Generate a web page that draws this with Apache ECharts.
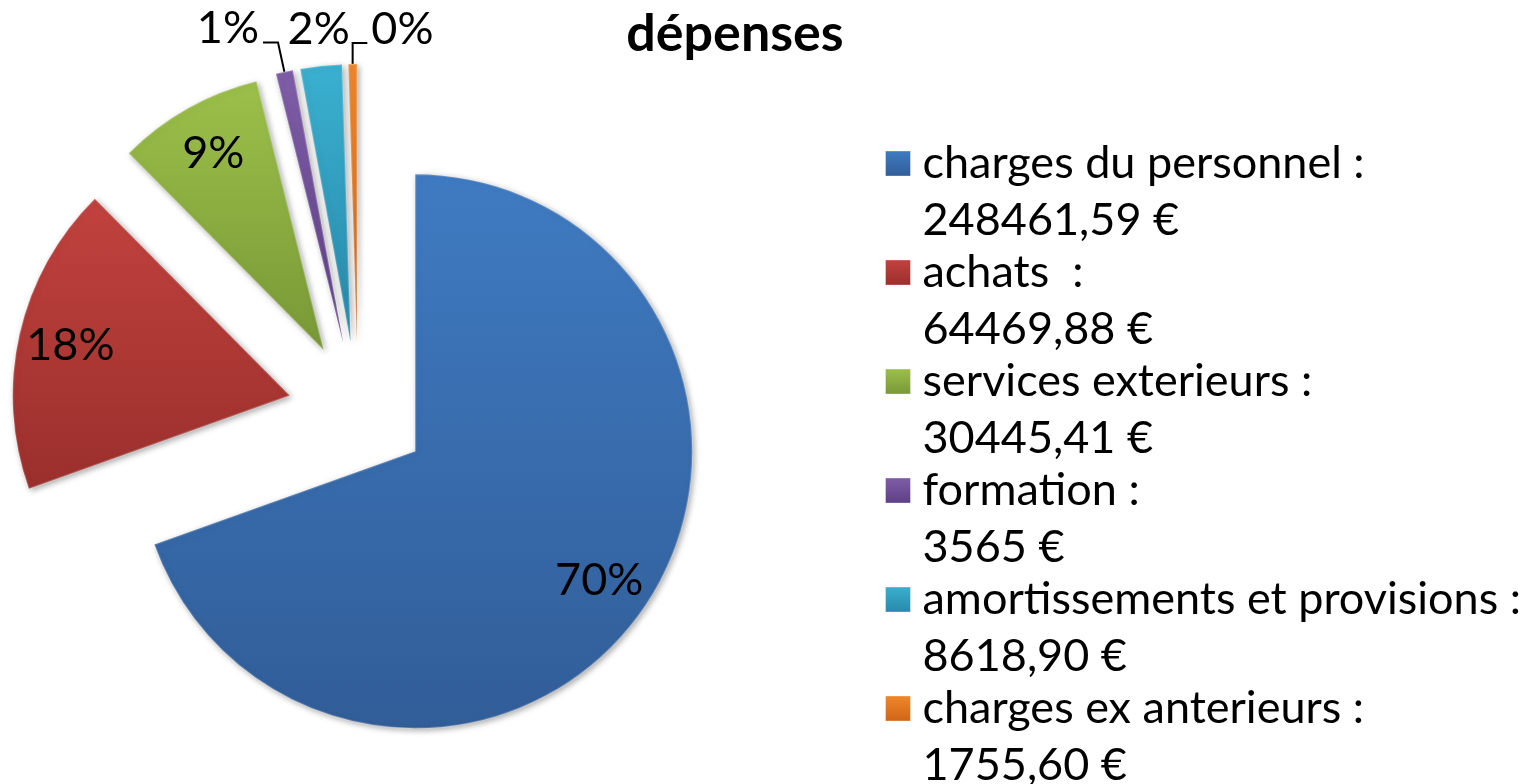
<!DOCTYPE html>
<html>
<head>
<meta charset="utf-8">
<script src="https://cdn.jsdelivr.net/npm/echarts@6/dist/echarts.min.js"></script>
<style>
  html, body { margin: 0; padding: 0; background: #fff; }
  #chart { width: 1534px; height: 784px; }
</style>
</head>
<body>
<div id="chart"></div>
<script>
// dépenses : répartition des charges
const categories = ['charges du personnel :', 'achats  :', 'services exterieurs :', 'formation :', 'amortissements et provisions :', 'charges ex anterieurs :']
const amounts = [248461.59, 64469.88, 30445.41, 3565, 8618.90, 1755.60]
const amountLabels = ['248461,59 €', '64469,88 €', '30445,41 €', '3565 €', '8618,90 €', '1755,60 €']
// slices whose percentage sits inside the sector
const insideLabel = [true, true, true, false, false, false]

const FONT = 'Lato'
const colorStops = [
  ['#3f7bc2', '#315d98'],
  ['#c2423e', '#9a2f2c'],
  ['#9cc04a', '#789836'],
  ['#7f5ea8', '#5d3f85'],
  ['#3ab0d0', '#2888aa'],
  ['#f0882a', '#d06418']
]

// leader lines of the small outside labels (length, length2, distance, align)
const leader = {
  3: { length: 30, length2: 15, dist: 4, align: 'right', show: true },
  4: { length: 23, length2: 0, dist: 0, align: 'center', show: false },
  5: { length: 21, length2: -15, dist: -4, align: 'left', show: true }
}

function grad ( c ) {
  return new echarts.graphic.LinearGradient( 0, 0, 0, 1, [
    { offset: 0, color: c[ 0 ] },
    { offset: 1, color: c[ 1 ] }
  ] )
}

const center = [ 358, 411 ]
const radius = 277
const explode = 70

const mainData = categories.map( ( name, i ) => {
  let item = {
    name,
    value: amounts[ i ],
    selected: true,
    itemStyle: { color: grad( colorStops[ i ] ) },
    label: { show: false },
    labelLine: { show: false }
  }
  let l = leader[ i ]
  if ( l ) {
    item.label = { show: true, distanceToLabelLine: l.dist }
    item.labelLine = {
      show: true,
      length: l.length,
      length2: l.length2,
      lineStyle: { opacity: l.show ? 1 : 0 }
    }
  }
  return item
} )

const labelData = categories.map( ( name, i ) => ( {
  name,
  value: amounts[ i ],
  selected: true,
  label: { show: insideLabel[ i ] }
} ) )

const chart = echarts.init( document.getElementById( 'chart' ) )
chart.setOption( {
  animation: false,
  title: {
    text: 'dépenses',
    left: 730,
    top: 3,
    textAlign: 'center',
    textStyle: { fontFamily: FONT, fontWeight: 'bold', fontSize: 52, color: '#000' }
  },
  legend: {
    orient: 'vertical',
    left: 885,
    top: 78,
    height: 900,
    padding: 0,
    itemWidth: 25,
    itemHeight: 25,
    itemGap: -62,
    icon: 'rect',
    data: categories,
    selectedMode: false,
    // blank first line so that the name sits level with the icon
    formatter: name => ' \n' + name + '\n' + amountLabels[ categories.indexOf( name ) ],
    itemStyle: { borderColor: 'rgba(255,255,255,0.35)', borderWidth: 1 },
    textStyle: {
      fontFamily: FONT, fontSize: 45, color: '#000',
      lineHeight: 57,
      padding: [ 0, 0, 0, 7 ]
    }
  },
  series: [
    {
      type: 'pie',
      center,
      radius,
      startAngle: 90,
      selectedMode: 'multiple',
      selectedOffset: explode,
      percentPrecision: 0,
      avoidLabelOverlap: false,
      emphasis: { disabled: true },
      itemStyle: {
        borderColor: 'rgba(255,255,255,0.18)',
        borderWidth: 2,
        shadowBlur: 6,
        shadowColor: 'rgba(0,0,0,0.35)',
        shadowOffsetX: 2,
        shadowOffsetY: 2
      },
      label: {
        position: 'outside',
        // trailing blank line lifts the text above its leader line
        formatter: '{d}%\n ',
        fontFamily: FONT,
        fontSize: 45,
        lineHeight: 28,
        color: '#000'
      },
      labelLine: {
        lineStyle: { color: '#000', width: 2 }
      },
      labelLayout: p => {
        let l = leader[ p.dataIndex ]
        return l ? { align: l.align } : {}
      },
      data: mainData
    },
    {
      // percentages drawn inside the large sectors
      name: 'labels',
      type: 'pie',
      center,
      radius: [ 167, radius ],
      startAngle: 90,
      selectedMode: 'multiple',
      selectedOffset: explode,
      percentPrecision: 0,
      silent: true,
      emphasis: { disabled: true },
      itemStyle: { color: 'rgba(0,0,0,0)' },
      label: {
        position: 'inside',
        formatter: '{d}%',
        fontFamily: FONT,
        fontSize: 45,
        color: '#000'
      },
      labelLine: { show: false },
      data: labelData
    }
  ]
} )
</script>
</body>
</html>
